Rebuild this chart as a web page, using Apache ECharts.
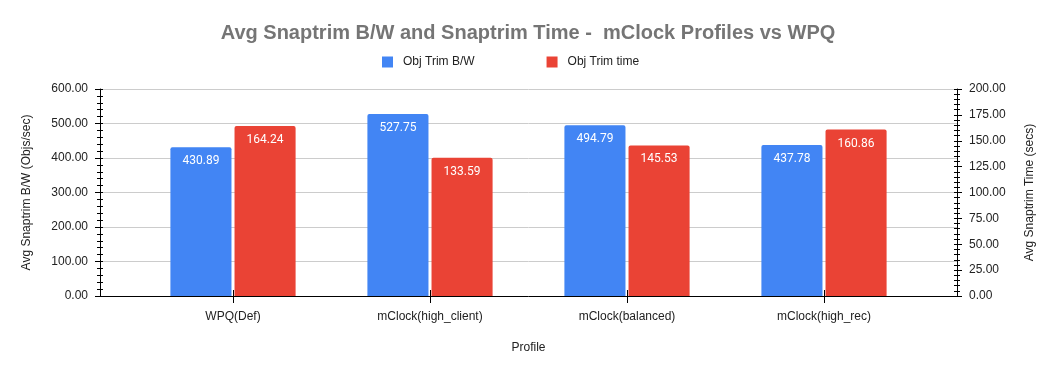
<!DOCTYPE html>
<html>
<head>
<meta charset="utf-8">
<script src="https://cdn.jsdelivr.net/npm/echarts@6/dist/echarts.min.js"></script>
<style>html,body{margin:0;padding:0;background:#fff;}#c{width:1056px;height:373px;}</style>
</head>
<body>
<div id="c"></div>
<script>
var categories = ['WPQ(Def)', 'mClock(high_client)', 'mClock(balanced)', 'mClock(high_rec)'];
var bwValues = [430.89, 527.75, 494.79, 437.78];
var timeValues = [164.24, 133.59, 145.53, 160.86];
var seriesNames = ['Obj Trim B/W', 'Obj Trim time'];

var chart = echarts.init(document.getElementById('c'), null, {renderer: 'canvas'});
var fnt = '"Liberation Sans", Arial, sans-serif';
var fmt2 = function (v) { return Number(v).toFixed(2); };
var tickLbl = {color: '#222', fontFamily: fnt, fontSize: 12, formatter: fmt2};

function outerY(pos, max, interval, name, showSplit) {
  return {
    type: 'value', gridIndex: 0, position: pos, min: 0, max: max, interval: interval,
    name: name, nameLocation: 'middle', nameGap: 67,
    nameTextStyle: {color: '#222', fontFamily: fnt, fontSize: 12},
    axisLine: {show: true, lineStyle: {color: '#000', width: 1}},
    axisTick: {show: true, length: 5, lineStyle: {color: '#000'}},
    minorTick: {show: true, splitNumber: 5, length: 3, lineStyle: {color: '#000'}},
    axisLabel: Object.assign({margin: 12}, tickLbl),
    splitLine: {show: showSplit, lineStyle: {color: '#ccc'}}
  };
}
function innerY(pos, max, interval) {
  return {
    type: 'value', gridIndex: 0, position: pos, min: 0, max: max, interval: interval,
    axisLine: {show: false},
    axisTick: {show: true, inside: true, length: 3, lineStyle: {color: '#000'}},
    minorTick: {show: true, splitNumber: 5, length: 3, lineStyle: {color: '#000'}},
    axisLabel: {show: false}, splitLine: {show: false}
  };
}
function hiddenY(max, interval) {
  return {type: 'value', gridIndex: 1, min: 0, max: max, interval: interval, show: false,
    axisLine: {show: false}, axisTick: {show: false}, axisLabel: {show: false}, splitLine: {show: false}};
}

var barLabel = {show: true, position: 'insideTop', distance: 8, color: '#fff',
  fontFamily: 'Roboto, "Liberation Sans", sans-serif', fontSize: 12, formatter: function (p) { return fmt2(p.value); }};

chart.setOption({
  animation: false,
  backgroundColor: '#fff',
  title: {
    text: 'Avg Snaptrim B/W and Snaptrim Time -  mClock Profiles vs WPQ',
    left: 'center', top: 18,
    textStyle: {color: '#757575', fontFamily: fnt, fontSize: 20, fontWeight: 'bold'}
  },
  legend: {
    data: seriesNames, left: 377, top: 51, itemWidth: 11, itemHeight: 11, itemGap: 72,
    icon: 'rect', textStyle: {color: '#222', fontFamily: fnt, fontSize: 12, padding: [0, 0, 0, 5]}
  },
  grid: [
    {left: 100, right: 99, top: 89, bottom: 77},
    {left: 134.5, right: 133.5, top: 89, bottom: 77}
  ],
  xAxis: [
    {type: 'value', gridIndex: 0, min: 0, max: 1, show: true,
      axisLine: {show: true, onZero: false, lineStyle: {color: '#000'}}, axisTick: {show: false},
      axisLabel: {show: false}, splitLine: {show: false}},
    {type: 'category', gridIndex: 1, data: categories,
      name: 'Profile', nameLocation: 'middle', nameGap: 46,
      nameTextStyle: {color: '#222', fontFamily: fnt, fontSize: 12},
      axisLine: {show: false}, axisTick: {show: true, alignWithLabel: true, length: 7, lineStyle: {color: '#000'}},
      axisLabel: {color: '#222', fontFamily: fnt, fontSize: 12, margin: 15},
      splitLine: {show: false}},
    {type: 'category', gridIndex: 1, data: categories, position: 'bottom',
      axisLine: {show: false}, axisTick: {show: true, inside: true, alignWithLabel: true, length: 6, lineStyle: {color: '#000'}},
      axisLabel: {show: false}, splitLine: {show: false}}
  ],
  yAxis: [
    outerY('left', 600, 100, 'Avg Snaptrim B/W (Objs/sec)', true),
    outerY('right', 200, 25, 'Avg Snaptrim Time (secs)', false),
    innerY('left', 600, 100),
    innerY('right', 200, 25),
    hiddenY(600, 100),
    hiddenY(200, 25)
  ],
  series: [
    {name: seriesNames[0], type: 'bar', xAxisIndex: 1, yAxisIndex: 4, data: bwValues,
      barWidth: '31%', barGap: '5%', itemStyle: {color: '#4285F4', borderRadius: [2, 2, 0, 0]}, label: barLabel},
    {name: seriesNames[1], type: 'bar', xAxisIndex: 1, yAxisIndex: 5, data: timeValues,
      barWidth: '31%', barGap: '5%', itemStyle: {color: '#EA4335', borderRadius: [2, 2, 0, 0]}, label: barLabel}
  ]
});
</script>
</body>
</html>
